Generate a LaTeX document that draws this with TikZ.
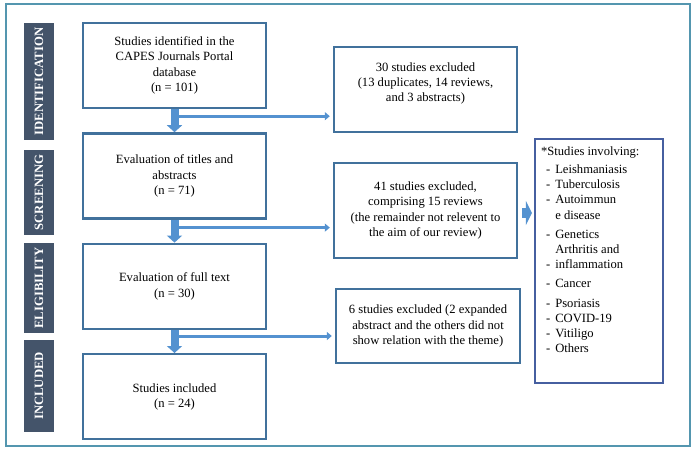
\documentclass[tikz,border=0pt]{standalone}
\usepackage{fontspec}
\setmainfont{Liberation Serif}
\usepackage{tikz}
\usetikzlibrary{arrows.meta,positioning}
\definecolor{framecol}{RGB}{84,150,175}
\definecolor{stagecol}{RGB}{68,84,106}
\definecolor{boxcol}{RGB}{65,113,156}
\definecolor{arrowcol}{RGB}{84,146,208}
\definecolor{listcol}{RGB}{70,95,160}
\newcommand{\flowfont}{\fontsize{12.6}{15.2}\selectfont}
\tikzset{
  stage/.style={fill=stagecol, text=white, font=\fontsize{12.7}{15}\selectfont\bfseries, rotate=90, minimum height=30pt, inner sep=0pt},
  mainbox/.style={draw=boxcol, line width=2.4pt, fill=white, align=center, minimum width=183pt, minimum height=85pt, font=\flowfont},
  exclbox/.style={mainbox},
  topicbox/.style={draw=listcol, line width=2.2pt, fill=white, minimum width=128pt, minimum height=244pt},
  framebox/.style={draw=framecol, line width=1.8pt},
  downarrow/.style={draw=arrowcol, line width=8pt, -{Triangle[length=7pt,width=15pt]}},
  exclarrow/.style={draw=arrowcol, line width=3pt, -{Triangle[length=5pt,width=8pt]}, shorten >=3pt},
  listarrow/.style={draw=arrowcol, line width=10pt, -{Triangle[length=6pt,width=24pt]}, shorten <=4pt, shorten >=2pt},
}

\begin{document}
\begin{tikzpicture}[x=1pt, y=-1pt]
  \useasboundingbox (0,0) rectangle (698,453);
  \draw[framebox] (6,4) rectangle (690,446);

  % stages
  \node[stage, minimum width=117pt] (sid) at (39,81.5) {IDENTIFICATION};
  \node[stage, minimum width=85pt] (ssc) at (39,192.5) {SCREENING};
  \node[stage, minimum width=90pt] (sel) at (39,288) {ELIGIBILITY};
  \node[stage, minimum width=92pt] (sin) at (39,386) {INCLUDED};

  % main flow
  \node[mainbox] (b1) at (174.5,65.5) {Studies identified in the\\CAPES Journals Portal\\database\\(n = 101)};
  \node[mainbox, below=23pt of b1] (b2) {Evaluation of titles and\\abstracts\\(n = 71)};
  \node[mainbox, below=23pt of b2] (b3) {Evaluation of full text\\(n = 30)};
  \node[mainbox, below=23pt of b3] (b4) {Studies included\\(n = 24)};

  % exclusions
  \node[exclbox] (e1) at (425.5,89.5) {30 studies excluded\\(13 duplicates, 14 reviews,\\and 3 abstracts)\\ \mbox{}};
  \node[exclbox, minimum height=95pt] (e2) at (425.5,210.5) {41 studies excluded,\\comprising 15 reviews\\(the remainder not relevent to\\the aim of our review)};
  \node[exclbox, minimum width=184pt, minimum height=74pt] (e3) at (428,326) {6 studies excluded (2 expanded\\abstract and the others did not\\show relation with the theme)};

  % topics
  \node[topicbox] (topics) at (599,261) {};
  \node[anchor=north west, inner sep=0pt, font=\flowfont] (topicslist) at ([xshift=7pt,yshift=-6.5pt]topics.north west) {%
    \begin{tabular}{@{\hspace{5pt}}l@{\hspace{5pt}}l@{}}
      \multicolumn{2}{@{}l@{}}{*Studies involving:}\\[3pt]
      - & Leishmaniasis\\
      - & Tuberculosis\\
      - & Autoimmun\\
        & e disease\\[4pt]
      - & Genetics\\
        & Arthritis and\\
      - & inflammation\\[4pt]
      - & Cancer\\[4pt]
      - & Psoriasis\\
      - & COVID-19\\
      - & Vitiligo\\
      - & Others
    \end{tabular}};

  \coordinate (j1) at ([xshift=4pt,yshift=-7pt]b1.south);
  \coordinate (j2) at ([xshift=4pt,yshift=-8pt]b2.south);
  \coordinate (j3) at ([xshift=4pt,yshift=-6pt]b3.south);
  \draw[exclarrow] (j1) -- (j1 -| e1.west);
  \draw[exclarrow] (j2) -- (j2 -| e2.west);
  \draw[exclarrow] (j3) -- (j3 -| e3.west);

  \draw[downarrow] (b1) -- (b2);
  \draw[downarrow] (b2) -- (b3);
  \draw[downarrow] (b3) -- (b4);

  \draw[listarrow] ([yshift=-2.5pt]e2.east) -- ([yshift=-2.5pt]e2.east -| topics.west);
\end{tikzpicture}
\end{document}
